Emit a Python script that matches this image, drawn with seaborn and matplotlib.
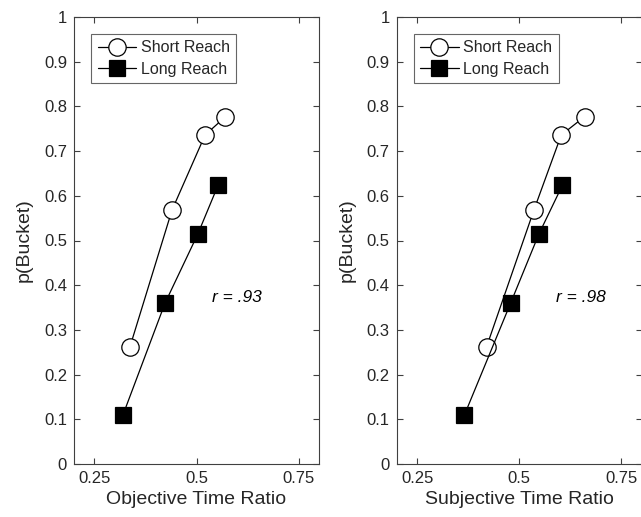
import matplotlib
matplotlib.use("Agg")
import matplotlib.pyplot as plt
import seaborn as sns
import pandas as pd

# Data
y_short = [0.262, 0.568, 0.736, 0.777]
y_long = [0.110, 0.360, 0.514, 0.624]
obj_short = [0.337, 0.440, 0.521, 0.571]
obj_long = [0.320, 0.423, 0.503, 0.553]
subj_short = [0.420, 0.536, 0.603, 0.660]
subj_long = [0.366, 0.479, 0.548, 0.606]
x_ticks = [0.25, 0.5, 0.75]
x_tick_labels = ["0.25", "0.5", "0.75"]
y_ticks = [0, 0.1, 0.2, 0.3, 0.4, 0.5, 0.6, 0.7, 0.8, 0.9, 1.0]
y_tick_labels = ["0", "0.1", "0.2", "0.3", "0.4", "0.5", "0.6", "0.7", "0.8", "0.9", "1"]
x_labels = ["Objective Time Ratio", "Subjective Time Ratio"]
r_texts = ["r = .93", "r = .98"]
series_names = ["Short Reach", "Long Reach"]

sns.set_theme(style="white")
plt.rcParams['font.family'] = ['Liberation Sans', 'DejaVu Sans']

fig = plt.figure(figsize=(6.41, 5.17), dpi=100)
W, H = 641, 517
axes_px = [(74, 17, 319, 464), (396.7, 17, 641.7, 464)]
axc = "#404040"
txc = "#262626"

panels = [(obj_short, obj_long), (subj_short, subj_long)]
r_pos = [(0.599, 0.373), (0.651, 0.373)]

for i, ((xs, xl), (l, t, r, b)) in enumerate(zip(panels, axes_px)):
    ax = fig.add_axes([l / W, (H - b) / H, (r - l) / W, (b - t) / H])
    df_s = pd.DataFrame({"x": xs, "y": y_short})
    df_l = pd.DataFrame({"x": xl, "y": y_long})
    sns.lineplot(data=df_s, x="x", y="y", ax=ax, sort=False, color="black",
                 linewidth=0.9, marker="o", markersize=12.5,
                 markerfacecolor="white", markeredgecolor="black",
                 markeredgewidth=0.9, label=series_names[0])
    sns.lineplot(data=df_l, x="x", y="y", ax=ax, sort=False, color="black",
                 linewidth=0.9, marker="s", markersize=11,
                 markerfacecolor="black", markeredgecolor="black",
                 markeredgewidth=0.9, label=series_names[1])
    ax.set_xlim(0.2, 0.8)
    ax.set_ylim(0, 1)
    ax.set_xticks(x_ticks)
    ax.set_xticklabels(x_tick_labels)
    ax.set_yticks(y_ticks)
    ax.set_yticklabels(y_tick_labels)
    ax.tick_params(direction="in", length=4, width=0.8, colors=axc,
                   labelcolor=txc, labelsize=12, top=True, right=True,
                   bottom=True, left=True, pad=5)
    for s in ax.spines.values():
        s.set_visible(True)
        s.set_color(axc)
        s.set_linewidth(0.8)
    ax.set_xlabel(x_labels[i], fontsize=14, color=txc, labelpad=4)
    ax.set_ylabel("p(Bucket)", fontsize=14, color=txc, labelpad=8)
    ax.text(r_pos[i][0], r_pos[i][1], r_texts[i], fontsize=12.5,
            style="italic", color="black", ha="center", va="center")
    leg = ax.legend(loc="upper left", bbox_to_anchor=(0.07, 0.962),
                    fontsize=11.5, frameon=True, fancybox=False,
                    borderpad=0.4, handlelength=2.4, handletextpad=0.3,
                    labelspacing=0.4, borderaxespad=0)
    leg.get_frame().set_edgecolor(axc)
    leg.get_frame().set_linewidth(0.8)
    for txt in leg.get_texts():
        txt.set_color(txc)

fig.savefig("out.png", dpi=100)
